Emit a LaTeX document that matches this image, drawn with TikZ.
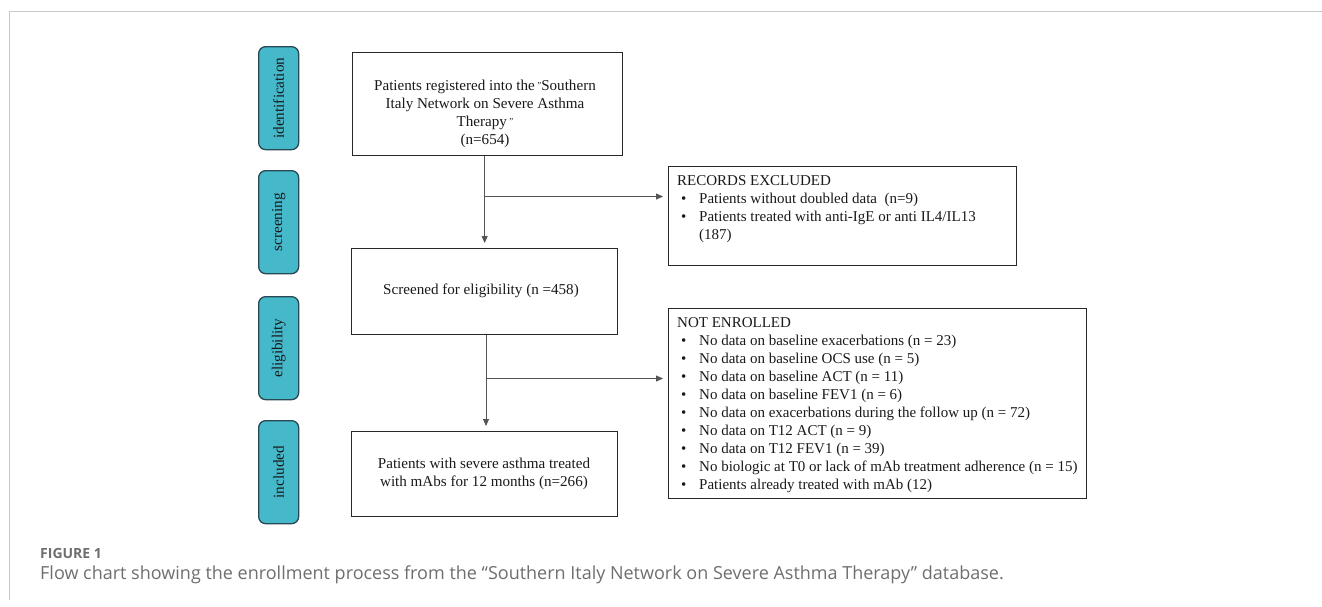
\documentclass[tikz,border=0pt]{standalone}
\usepackage{fontspec}
\setmainfont{Liberation Serif}
\newfontfamily\capfont{Open Sans}
\usetikzlibrary{arrows.meta}
\definecolor{teal1}{RGB}{69,184,201}
\definecolor{tealborder}{RGB}{40,72,84}
\definecolor{boxline}{RGB}{40,40,40}
\definecolor{arrline}{RGB}{85,85,85}
\definecolor{framegray}{RGB}{200,200,200}
\definecolor{capgray}{RGB}{110,110,110}
\tikzset{
  stage/.style={draw=tealborder, line width=1.3pt, fill=teal1, rounded corners=7pt,
    minimum width=40pt, minimum height=103pt, anchor=north west, inner sep=0pt},
  stagetext/.style={rotate=90, font=\fontsize{15.2}{17}\selectfont, text=black!90},
  flowbox/.style={draw=boxline, line width=1.3pt, anchor=north west, inner sep=0pt},
  boxtext/.style={align=center, font=\fontsize{15.1}{18}\selectfont, text=black!90, inner sep=0pt},
  listtext/.style={align=left, font=\fontsize{15}{18}\selectfont, text=black!90, inner sep=0pt, anchor=north west},
  arr/.style={draw=arrline, line width=0.8pt, -{Triangle[length=7pt,width=6pt]}, shorten >=5pt},
}
\newcommand{\bul}[1]{\hspace*{4pt}\makebox[18pt][l]{\textbullet}#1}
\newcommand{\cont}[1]{\hspace*{22pt}#1}
\newcommand{\smq}{{\small\raisebox{0.5ex}{"}}}
\begin{document}
\begin{tikzpicture}[x=1pt,y=-1pt]
\useasboundingbox (0,0) rectangle (1322,606);
% frame
\draw[framegray, line width=1pt] (9,600) -- (9,11.5) -- (1322,11.5);

% stage labels
\node[stage] (s1) at (258,46) {};
\node[stagetext] (s1t) at (s1.center) {identification};
\node[stage] (s2) at (258,170) {};
\node[stagetext] (s2t) at (s2.center) {screening};
\node[stage] (s3) at (258,296) {};
\node[stagetext] (s3t) at (s3.center) {eligibility};
\node[stage] (s4) at (258,420) {};
\node[stagetext] (s4t) at (s4.center) {included};

% main boxes
\node[flowbox, minimum width=270pt, minimum height=103pt] (b1) at (352,52) {};
\node[boxtext] (b1t) at (485,114) {Patients registered into the\,\smq Southern\\Italy Network on Severe Asthma\\Therapy\,\smq\\(n=654)};
\node[flowbox, minimum width=266pt, minimum height=86pt] (b2) at (351,248) {};
\node[boxtext] (b2t) at (481,291) {Screened for eligibility (n =458)};
\node[flowbox, minimum width=266pt, minimum height=85pt] (b3) at (351,431) {};
\node[boxtext] (b3t) at (484,474) {Patients with severe asthma treated\\with mAbs for 12 months (n=266)};

% side boxes
\node[flowbox, minimum width=348pt, minimum height=99pt] (rec) at (668,166) {};
\node[listtext] (rect) at (677,175) {RECORDS EXCLUDED\\
\bul{Patients without doubled data\ \ (n=9)}\\
\bul{Patients treated with anti-IgE or anti IL4/IL13}\\
\cont{(187)}};
\node[flowbox, minimum width=418pt, minimum height=190pt] (ne) at (668,308) {};
\node[listtext] (net) at (677,317.5) {NOT ENROLLED\\
\bul{No data on baseline exacerbations (n = 23)}\\
\bul{No data on baseline OCS use (n = 5)}\\
\bul{No data on baseline ACT (n = 11)}\\
\bul{No data on baseline FEV1 (n = 6)}\\
\bul{No data on exacerbations during the follow up (n = 72)}\\
\bul{No data on T12 ACT (n = 9)}\\
\bul{No data on T12 FEV1 (n = 39)}\\
\bul{No biologic at T0 or lack of mAb treatment adherence (n = 15)}\\
\bul{Patients already treated with mAb (12)}};

% connectors
\coordinate (j1) at (484,196.5);
\coordinate (j2) at (486,378.5);
\draw[arr] (b1.south -| b2.north) -- (b2.north);
\draw[arr] (j1) -- (rec.west |- j1);
\draw[arr] (b2.south -| j2) -- (b3.north -| j2);
\draw[arr] (j2) -- (ne.west |- j2);

% caption
\node[anchor=base west, inner sep=0pt, font=\capfont\bfseries\fontsize{14}{16}\selectfont, text=capgray] (fig) at (40,558) {FIGURE 1};
\node[anchor=base west, inner sep=0pt, font=\capfont\fontsize{18}{21}\selectfont, text=capgray] (cap) at (40,579) {Flow chart showing the enrollment process from the “Southern Italy Network on Severe Asthma Therapy” database.};
\end{tikzpicture}
\end{document}
